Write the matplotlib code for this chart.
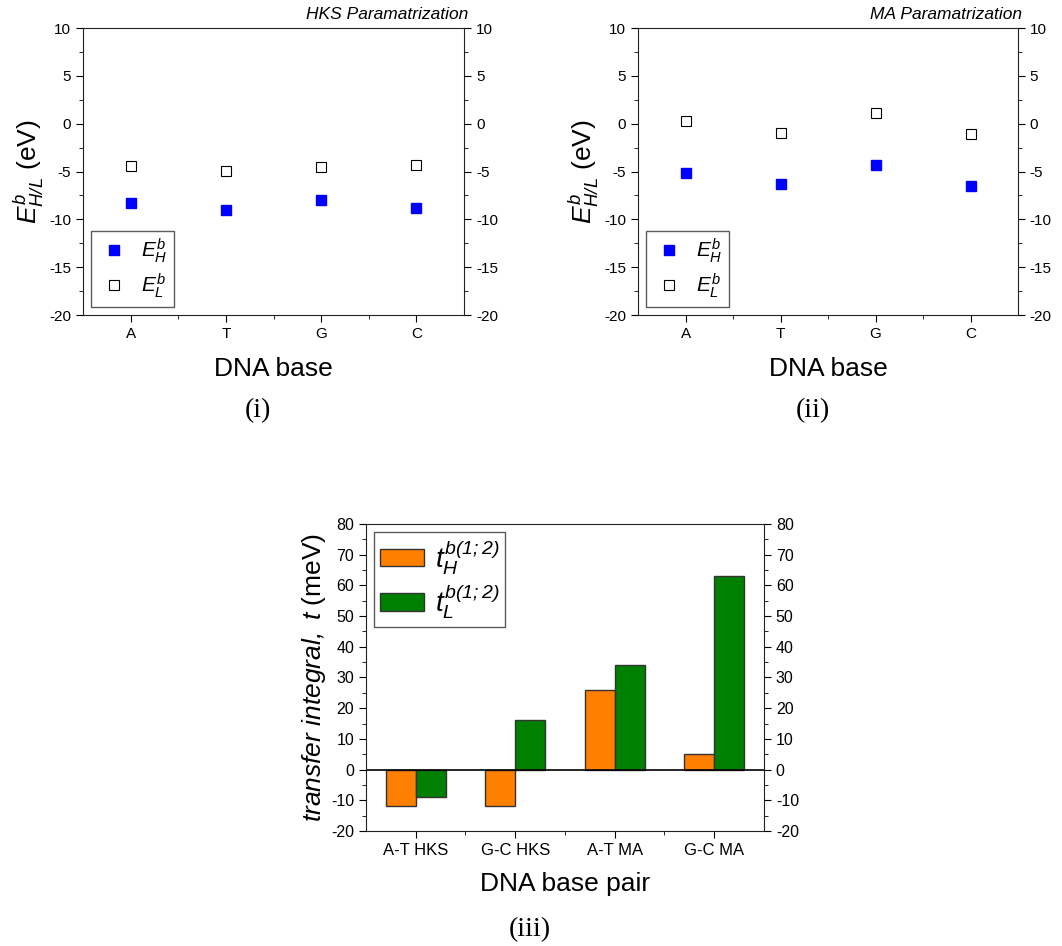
import matplotlib
matplotlib.use('Agg')
import matplotlib.pyplot as plt
import numpy as np
from matplotlib.ticker import MultipleLocator

plt.rcParams['font.family'] = ['Liberation Sans', 'DejaVu Sans']
plt.rcParams['mathtext.fontset'] = 'custom'
plt.rcParams['mathtext.rm'] = 'Liberation Sans:italic'
plt.rcParams['mathtext.it'] = 'Liberation Sans:italic'
plt.rcParams['mathtext.default'] = 'it'
plt.rcParams['axes.unicode_minus'] = False

# data
bases = ['A', 'T', 'G', 'C']
hks_EH = [-8.3, -9.0, -8.0, -8.8]
hks_EL = [-4.4, -4.9, -4.5, -4.3]
ma_EH = [-5.2, -6.3, -4.3, -6.5]
ma_EL = [0.3, -1.0, 1.1, -1.1]

pairs = ['A-T HKS', 'G-C HKS', 'A-T MA', 'G-C MA']
t_H = [-12, -12, 26, 5]
t_L = [-9, 16, 34, 63]

fig = plt.figure(figsize=(10.62, 9.46), dpi=100)


def style_axis(ax, major, minor, lsize):
    ax.yaxis.set_major_locator(MultipleLocator(major))
    ax.yaxis.set_minor_locator(MultipleLocator(minor))
    ax.tick_params(axis='both', which='both', direction='out', labelsize=lsize,
                   right=True, labelright=True, top=False)
    ax.tick_params(which='major', length=5)
    ax.tick_params(which='minor', length=3)
    for s in ax.spines.values():
        s.set_color('#222222')


def base_panel(rect, eh, el, title, tag, tagpos):
    ax = fig.add_axes(rect)
    x = np.arange(1, len(bases) + 1)
    ax.plot(x, eh, 's', color='#0000FF', ms=7, ls='none', label=r'$E^b_H$')
    ax.plot(x, el, 's', mfc='white', mec='black', mew=0.8, ms=7, ls='none',
            label=r'$E^b_L$')
    ax.set_xlim(0.5, 4.5)
    ax.set_ylim(-20, 10)
    ax.set_xticks(x)
    ax.set_xticklabels(bases)
    style_axis(ax, 5, 2.5, 11)
    ax.set_xticks(x[:-1] + 0.5, minor=True)
    ax.set_xlabel('DNA base', fontsize=19, labelpad=12)
    ax.set_ylabel(r'$E^b_{H/L}$ (eV)', fontsize=19, labelpad=2)
    ax.text(1.01, 1.02, title, transform=ax.transAxes, ha='right', va='bottom',
            fontsize=12.5, style='italic')
    leg = ax.legend(loc='lower left', fontsize=15, frameon=True, fancybox=False,
                    edgecolor='#333333', handlelength=1.6, handletextpad=0.5,
                    borderpad=0.3, labelspacing=0.3, borderaxespad=0.4)
    leg.get_frame().set_linewidth(1.0)
    fig.text(tagpos[0], tagpos[1], tag, family='Liberation Serif', fontsize=20,
             ha='center', va='center')
    return ax


base_panel([0.0782, 0.667, 0.3588, 0.3034], hks_EH, hks_EL,
           'HKS Paramatrization', '(i)', (258 / 1062, 1 - 411 / 946))
base_panel([0.6008, 0.667, 0.3578, 0.3034], ma_EH, ma_EL,
           'MA Paramatrization', '(ii)', (813 / 1062, 1 - 411 / 946))

# transfer integral panel
ax3 = fig.add_axes([0.3446, 0.1216, 0.3748, 0.3245])
x = np.arange(1, len(pairs) + 1)
w = 0.3
ax3.bar(x - w / 2, t_H, w, color='#FF8000', edgecolor='#333333', lw=1.0,
        label=r'$t^{b(1;2)}_H$')
ax3.bar(x + w / 2, t_L, w, color='#008000', edgecolor='#333333', lw=1.0,
        label=r'$t^{b(1;2)}_L$')
ax3.axhline(0, color='black', lw=1.2)
ax3.set_xlim(0.5, 4.5)
ax3.set_ylim(-20, 80)
ax3.set_xticks(x)
ax3.set_xticklabels(pairs)
style_axis(ax3, 10, 5, 11.5)
ax3.set_xticks(x[:-1] + 0.5, minor=True)
ax3.tick_params(axis='x', labelsize=12)
ax3.set_xlabel('DNA base pair', fontsize=19, labelpad=10)
ax3.set_ylabel(r'$transfer\ integral,\ t$ (meV)', fontsize=19, labelpad=2)
leg = ax3.legend(loc='upper left', fontsize=20, frameon=True, fancybox=False,
                 edgecolor='#333333', handlelength=1.6, handleheight=0.6,
                 handletextpad=0.4, borderpad=0.2, labelspacing=0.2,
                 borderaxespad=0.3)
leg.get_frame().set_linewidth(1.0)
fig.text(530 / 1062, 1 - 930 / 946, '(iii)', family='Liberation Serif',
         fontsize=20, ha='center', va='center')

plt.savefig('out.png', dpi=100)
